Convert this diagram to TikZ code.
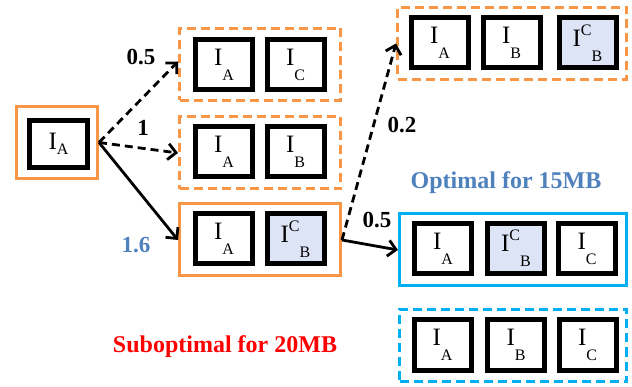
\documentclass[tikz,border=0pt]{standalone}
\usepackage{fontspec}
\setmainfont{Liberation Serif}
\usetikzlibrary{arrows.meta}
\definecolor{myorange}{HTML}{F79646}
\definecolor{mycyan}{HTML}{00B0F0}
\definecolor{myblue}{HTML}{4F81BD}
\definecolor{myfill}{HTML}{DDE4F5}
\newcommand\subsz{\fontsize{16}{16}\selectfont}
\newcommand\Isb[1]{I\raisebox{-0.6em}{\subsz #1}}
\newcommand\Isupb[2]{I\raisebox{0.45em}{\subsz #1}\raisebox{-0.6em}{\subsz #2}}
\tikzset{
  ibox/.style={draw=black, line width=5pt, minimum width=57pt, minimum height=50pt, inner sep=0pt, font=\fontsize{25}{25}\selectfont},
  hbox/.style={ibox, fill=myfill},
  ogrp/.style={draw=myorange, line width=3pt, minimum height=72pt, inner sep=0pt},
  odash/.style={ogrp, dash pattern=on 9pt off 5pt},
  cgrp/.style={draw=mycyan, line width=3pt, minimum height=72pt, inner sep=0pt},
  cdash/.style={cgrp, dash pattern=on 9pt off 5pt},
  arr/.style={line width=2.8pt, -{Straight Barb[length=8pt,width=16pt,line width=2.8pt]}},
  darr/.style={arr, dash pattern=on 8pt off 5pt},
  num/.style={font=\fontsize{23}{23}\selectfont\bfseries},
  big/.style={font=\fontsize{24}{24}\selectfont\bfseries},
}
\begin{document}
\begin{tikzpicture}[x=1pt,y=-1pt]
\useasboundingbox (0,0) rectangle (632,387);
% left
\node[ogrp, minimum width=81pt] (L) at (57,142.5) {};
\node[ibox, minimum width=58pt, minimum height=47pt] (L1) at (58.5,144) {I\raisebox{-0.2em}{\subsz A}};
% group 1
\node[odash, minimum width=161pt] (G1) at (260,64.5) {};
\node[ibox] (G1a) at (224,64.5) {\Isb{A}};
\node[ibox] (G1b) at (295.5,64.5) {\Isb{C}};
% group 2
\node[odash, minimum width=161pt] (G2) at (260,153) {};
\node[ibox] (G2a) at (224,152) {\Isb{A}};
\node[ibox] (G2b) at (295.5,152) {\Isb{B}};
% group 3
\node[ogrp, minimum width=161pt] (G3) at (260,240) {};
\node[ibox] (G3a) at (224,239) {\Isb{A}};
\node[hbox] (G3b) at (295.5,239) {\Isupb{C}{B}};
% top right
\node[odash, minimum width=229pt] (T) at (512,43.5) {};
\node[ibox] (Ta) at (440,43) {\Isb{A}};
\node[ibox] (Tb) at (511.5,43) {\Isb{B}};
\node[hbox] (Tc) at (587.5,43) {\Isupb{C}{B}};
% optimal
\node[cgrp, minimum width=227pt] (O) at (513,250) {};
\node[ibox] (Oa) at (443,248.5) {\Isb{A}};
\node[hbox] (Ob) at (516,248.5) {\Isupb{C}{B}};
\node[ibox] (Oc) at (587,248.5) {\Isb{C}};
% suboptimal
\node[cdash, minimum width=227pt] (S) at (513,345.5) {};
\node[ibox] (Sa) at (442.5,345) {\Isb{A}};
\node[ibox] (Sb) at (516,345) {\Isb{B}};
\node[ibox] (Sc) at (587.5,345) {\Isb{C}};
% texts
\node[big, text=myblue] (t1) at (506,183) {Optimal for 15MB};
\node[big, text=red] (t2) at (225,347) {Suboptimal for 20MB};
% arrows
\coordinate (s1) at (L.east);
\draw[darr] (s1) -- ([yshift=3pt]G1.west);
\draw[darr] (s1) -- (G2.west);
\draw[arr] (s1) -- (G3.west);
\coordinate (s2) at (G3.east);
\draw[darr] (s2) -- (T.west);
\draw[arr] (s2) -- (O.west);
% labels
\node[num] (n1) at (141,57) {0.5};
\node[num] (n2) at (143,128) {1};
\node[num, text=myblue] (n3) at (136,245) {1.6};
\node[num] (n4) at (402,125) {0.2};
\node[num] (n5) at (377,220) {0.5};
\end{tikzpicture}
\end{document}
